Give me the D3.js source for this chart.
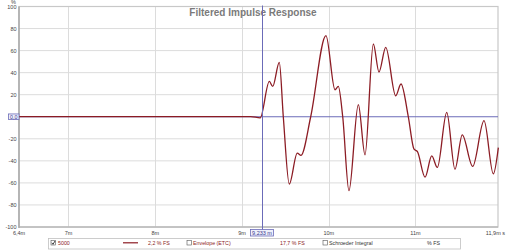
<!DOCTYPE html>
<html><head><meta charset="utf-8">
<script src="https://cdn.jsdelivr.net/npm/d3@7"></script>
<style>body{margin:0;background:#fff}svg{display:block}</style>
</head><body>
<svg id="c" width="506" height="250"></svg>
<script>
// Data (metres, % FS)
const impulseX = [6.43, 9.10, 9.21, 9.315, 9.354, 9.430, 9.476, 9.545, 9.637, 9.680, 9.792, 9.968,
  10.072, 10.110, 10.161, 10.233, 10.341, 10.418, 10.514, 10.579, 10.657, 10.772, 10.833, 10.917,
  10.983, 11.021, 11.110, 11.187, 11.252, 11.360, 11.455, 11.539, 11.659, 11.790, 11.897, 11.955];
const impulseY = [0.2, 0.2, -1, 32, 27.5, 49.4, 0, -61, -33, -35, 0, 73.6,
  24.5, 27.5, 0, -67, 11, -34.5, 66, 40.6, 63, 19, 29.7, 0,
  -29.4, -31.5, -54.8, -35.5, -46, 4, -47.6, -16.4, -45, -3.6, -51.8, -28];
const yTicks = [100, 80, 60, 40, 20, -20, -40, -60, -80, -100];
const xTicks = [7, 8, 9, 10, 11];
const xTickLabels = ["7m", "8m", "9m", "10m", "11m"];
const cursorX = 9.233;
const cursorLabel = "9,233 m";
const title = "Filtered Impulse Response";

const svg = d3.select("#c");
const L = 19, R = 498, T = 6.5, B = 227;
const x = d3.scaleLinear().domain([9 - (242 - L) / 86.75, 9 + (R - 242) / 86.75]).range([L, R]);
const y = d3.scaleLinear().domain([-100, 100]).range([B, T]);
const font = "Liberation Sans, Arial, sans-serif";

// grid
const g = svg.append("g");
g.selectAll(".gy").data(yTicks).join("line")
  .attr("x1", L).attr("x2", R).attr("y1", d => y(d)).attr("y2", d => y(d))
  .attr("stroke", "#dcdcdc").attr("stroke-width", 1);
g.selectAll(".gx").data(xTicks).join("line")
  .attr("x1", d => Math.round(x(d)) + 0.5).attr("x2", d => Math.round(x(d)) + 0.5).attr("y1", T).attr("y2", B)
  .attr("stroke", "#dcdcdc").attr("stroke-width", 1);

// frame
svg.append("rect").attr("x", L).attr("y", T).attr("width", R - L).attr("height", B - T)
  .attr("fill", "none").attr("stroke", "#c8c8c8").attr("stroke-width", 1.2);
svg.append("line").attr("x1", L).attr("x2", L).attr("y1", T).attr("y2", B + 1)
  .attr("stroke", "#9a9a9a").attr("stroke-width", 1.2);
svg.append("line").attr("x1", L).attr("x2", R).attr("y1", B).attr("y2", B)
  .attr("stroke", "#b0b0b0").attr("stroke-width", 1);

// title
svg.append("text").attr("x", 253).attr("y", 15.5).attr("text-anchor", "middle")
  .attr("font-family", font).attr("font-weight", "bold").attr("font-size", 10)
  .attr("fill", "#7a7a7a").text(title);

// y labels
svg.selectAll(".yl").data(yTicks).join("text")
  .attr("x", 16.5).attr("y", d => y(d) + 2).attr("text-anchor", "end")
  .attr("font-family", font).attr("font-size", 5.5).attr("fill", "#444").text(d => d);
svg.append("text").attr("x", 11).attr("y", 4).attr("font-family", font).attr("font-size", 5.5)
  .attr("fill", "#444").text("%");

// x labels
svg.selectAll(".xl").data(xTicks).join("text")
  .attr("x", d => x(d)).attr("y", 234.5).attr("text-anchor", "middle")
  .attr("font-family", font).attr("font-size", 5.5).attr("fill", "#444").text((d, i) => xTickLabels[i]);
svg.append("text").attr("x", 19).attr("y", 234.5).attr("text-anchor", "middle")
  .attr("font-family", font).attr("font-size", 5.5).attr("fill", "#444").text("6,4m");
svg.append("text").attr("x", 505).attr("y", 234.5).attr("text-anchor", "end")
  .attr("font-family", font).attr("font-size", 5.5).attr("fill", "#444").text("11,9m s");

// zero marker line
svg.append("line").attr("x1", L).attr("x2", R).attr("y1", y(0)).attr("y2", y(0))
  .attr("stroke", "#6b6bb8").attr("stroke-width", 1);

// impulse curve
const pts = impulseX.map((v, i) => [v, impulseY[i]]);
svg.append("path").datum(pts)
  .attr("d", d3.line().x(d => x(d[0])).y(d => y(d[1])).curve(d3.curveMonotoneX))
  .attr("fill", "none").attr("stroke", "#8c1c24").attr("stroke-width", 1.3);

// cursor
const cx = Math.round(x(cursorX)) + 0.5;
svg.append("line").attr("x1", cx).attr("x2", cx).attr("y1", T - 1).attr("y2", 230)
  .attr("stroke", "#6b6bb8").attr("stroke-width", 1);
svg.append("rect").attr("x", 250.5).attr("y", 229.5).attr("width", 23).attr("height", 6.5)
  .attr("fill", "#eef0fb").attr("stroke", "#6b6bb8").attr("stroke-width", 0.8);
svg.append("text").attr("x", 262).attr("y", 234.6).attr("text-anchor", "middle")
  .attr("font-family", font).attr("font-size", 5.5).attr("fill", "#3a3a90").text(cursorLabel);

// zero value box
svg.append("rect").attr("x", 8.5).attr("y", y(0) - 2.8).attr("width", 10.5).attr("height", 5.6)
  .attr("fill", "#eef0fb").attr("stroke", "#6b6bb8").attr("stroke-width", 0.8);
svg.append("text").attr("x", 13.7).attr("y", y(0) + 1.9).attr("text-anchor", "middle")
  .attr("font-family", font).attr("font-size", 5.3).attr("fill", "#3a3a90").text("0,0");

// legend
const lg = svg.append("g");
lg.append("rect").attr("x", 48.5).attr("y", 238.5).attr("width", 412).attr("height", 10.5)
  .attr("fill", "#fff").attr("stroke", "#c0c0c0").attr("stroke-width", 0.8);
function box(xp, checked) {
  lg.append("rect").attr("x", xp).attr("y", 240.5).attr("width", 4.5).attr("height", 4.5)
    .attr("fill", "#fff").attr("stroke", "#555").attr("stroke-width", 0.6);
  if (checked) lg.append("path").attr("d", `M${xp + 0.8},${242.8} L${xp + 2},${244.3} L${xp + 4},${241}`)
    .attr("fill", "none").attr("stroke", "#111").attr("stroke-width", 0.8);
}
function txt(xp, s, col) {
  lg.append("text").attr("x", xp).attr("y", 245).attr("font-family", font).attr("font-size", 5.3)
    .attr("fill", col).text(s);
}
box(51, true); txt(58, "5000", "#8c1c24");
lg.append("line").attr("x1", 123).attr("x2", 138).attr("y1", 242.8).attr("y2", 242.8)
  .attr("stroke", "#8c1c24").attr("stroke-width", 1.2);
txt(148, "2,2 % FS", "#8c1c24");
box(187, false); txt(193, "Envelope (ETC)", "#8c1c24");
txt(280, "17,7 % FS", "#8c1c24");
box(323, false); txt(329, "Schroeder Integral", "#333");
txt(427, "% FS", "#333");
</script>
</body></html>
